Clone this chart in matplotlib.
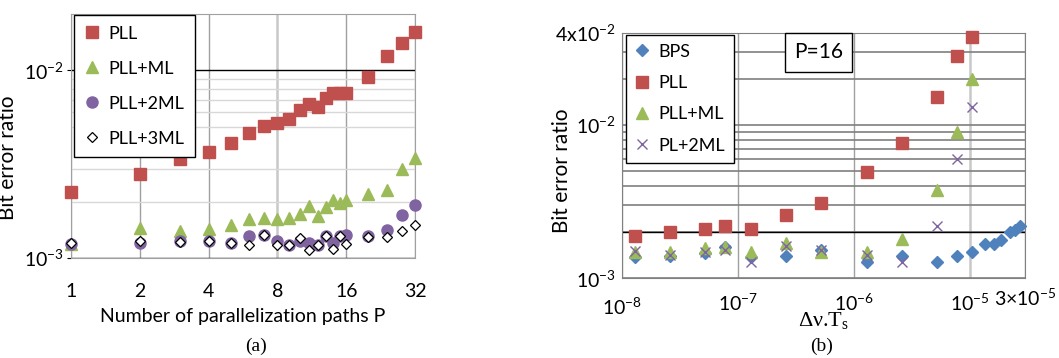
import matplotlib
matplotlib.use("Agg")
import matplotlib.pyplot as plt
import matplotlib.transforms as mtransforms
from matplotlib.ticker import FixedLocator, NullFormatter

plt.rcParams["font.family"] = ["Lato", "DejaVu Sans"]
plt.rcParams["mathtext.default"] = "regular"

# ---------------- DATA (a) ----------------

paths = [1, 2, 3, 4, 5, 6, 7, 8, 9, 10, 11, 12, 13, 14, 15, 16, 20, 24, 28, 32]

ber_pll = [2.24e-3, 2.81e-3, 3.36e-3, 3.67e-3, 4.13e-3, 4.67e-3, 5.07e-3, 5.22e-3,
           5.48e-3, 6.19e-3, 6.62e-3, 6.38e-3, 7.13e-3, 7.60e-3, 7.60e-3, 7.58e-3,
           9.18e-3, 1.20e-2, 1.40e-2, 1.60e-2]

ber_pll_ml = [1.19e-3, 1.445e-3, 1.39e-3, 1.43e-3, 1.50e-3, 1.61e-3, 1.63e-3, 1.61e-3,
              1.63e-3, 1.71e-3, 1.90e-3, 1.67e-3, 1.87e-3, 2.05e-3, 1.96e-3, 2.03e-3,
              2.20e-3, 2.30e-3, 2.99e-3, 3.40e-3]

ber_pll_2ml = [1.19e-3, 1.20e-3, 1.23e-3, 1.23e-3, 1.21e-3, 1.315e-3, 1.33e-3, 1.24e-3,
               1.18e-3, 1.23e-3, 1.21e-3, 1.18e-3, 1.315e-3, 1.21e-3, 1.31e-3, 1.32e-3,
               1.31e-3, 1.415e-3, 1.69e-3, 1.91e-3]

ber_pll_3ml = [1.20e-3, 1.24e-3, 1.22e-3, 1.23e-3, 1.21e-3, 1.18e-3, 1.33e-3, 1.18e-3,
               1.18e-3, 1.28e-3, 1.10e-3, 1.18e-3, 1.31e-3, 1.117e-3, 1.31e-3, 1.19e-3,
               1.30e-3, 1.30e-3, 1.39e-3, 1.51e-3]

# ---------------- DATA (b) ----------------

dnu = [1.3e-8, 2.6e-8, 5.2e-8, 7.8e-8, 1.3e-7, 2.6e-7, 5.2e-7, 1.3e-6,
       2.6e-6, 5.2e-6, 7.8e-6, 1.04e-5]

dnu_bps = dnu + [1.35e-5, 1.62e-5, 1.87e-5, 2.21e-5, 2.44e-5, 2.70e-5]

b_bps = [1.37e-3, 1.39e-3, 1.47e-3, 1.61e-3, 1.37e-3, 1.39e-3, 1.52e-3, 1.285e-3,
         1.40e-3, 1.285e-3, 1.39e-3, 1.48e-3, 1.68e-3, 1.68e-3, 1.78e-3, 1.99e-3,
         2.07e-3, 2.18e-3]

b_pll = [1.90e-3, 2.00e-3, 2.10e-3, 2.19e-3, 2.10e-3, 2.60e-3, 3.10e-3, 4.96e-3,
         7.67e-3, 1.52e-2, 2.84e-2, 3.74e-2]

b_pll_ml = [1.49e-3, 1.48e-3, 1.585e-3, 1.59e-3, 1.48e-3, 1.69e-3, 1.48e-3, 1.48e-3,
            1.80e-3, 3.78e-3, 8.99e-3, 2.01e-2]

b_pl_2ml = [1.51e-3, 1.41e-3, 1.49e-3, 1.53e-3, 1.285e-3, 1.63e-3, 1.52e-3, 1.42e-3,
            1.285e-3, 2.20e-3, 6.03e-3, 1.32e-2]

RED = "#C0504D"
GREEN = "#9BBB59"
PURPLE = "#8064A2"
BLUE = "#4F81BD"

fig = plt.figure(figsize=(10.59, 3.58), dpi=100)

# ---------------- PANEL (a) ----------------

ax1 = fig.add_axes([0.067, 0.279, 0.325, 0.682])
ax1.set_xscale("log", base=2)
ax1.set_yscale("log")
ax1.set_xlim(1, 32)
ax1.set_ylim(1e-3, 2e-2)

ax1.plot(paths, ber_pll, "s", color=RED, ms=8, label="PLL", clip_on=False, zorder=3)
ax1.plot(paths, ber_pll_ml, "^", color=GREEN, ms=8, label="PLL+ML", clip_on=False, zorder=3)
ax1.plot(paths, ber_pll_2ml, "o", color=PURPLE, ms=8, label="PLL+2ML", clip_on=False, zorder=3)
ax1.plot(paths, ber_pll_3ml, "D", mfc="white", mec="black", mew=0.9, ms=5.5,
         label="PLL+3ML", clip_on=False, zorder=4)

ax1.set_xticks([1, 2, 4, 8, 16, 32])
ax1.set_xticklabels(["1", "2", "4", "8", "16", "32"])
ax1.xaxis.set_minor_locator(FixedLocator([]))
ax1.set_yticks([1e-3, 1e-2])
ax1.set_yticklabels(["10$^{-3}$", "10$^{-2}$"])
ax1.yaxis.set_minor_locator(FixedLocator([2e-3, 3e-3, 5e-3, 6e-3, 7e-3, 8e-3, 9e-3]))
ax1.yaxis.set_minor_formatter(NullFormatter())

ax1.grid(True, axis="x", which="major", color="#a0a0a0", lw=1.0, zorder=0)
ax1.grid(True, axis="y", which="minor", color="#d8d8d8", lw=1.0, zorder=0)
ax1.grid(True, axis="y", which="major", color="black", lw=1.0, zorder=0)
ax1.get_xgridlines()[3].set_color("#c8c8c8")
ax1.get_xgridlines()[3].set_linewidth(1.8)
ax1.set_axisbelow(True)

ax1.tick_params(axis="x", length=0, pad=18, labelsize=14)
ax1.tick_params(axis="y", which="major", length=3, pad=2, labelsize=14)
ax1.tick_params(axis="y", which="minor", length=0)
for s in ax1.spines.values():
    s.set_color("#a0a0a0")

ax1.set_xlabel("Number of parallelization paths P", fontsize=14, labelpad=6)
ax1.set_ylabel("Bit error ratio", fontsize=15)
ax1.yaxis.set_label_coords(-0.154, 0.41)

leg1 = ax1.legend(loc="upper left", bbox_to_anchor=(0.009, 0.996), borderaxespad=0,
                  fontsize=13, frameon=True, fancybox=False, edgecolor="black",
                  framealpha=1, labelspacing=1.05, handlelength=0.8,
                  handletextpad=0.5, borderpad=0.6)
leg1.get_frame().set_linewidth(1.0)

fig.text(0.242, 0.02, "(a)", fontsize=14, family=["Liberation Serif"], ha="center")

# ---------------- PANEL (b) ----------------

ax2 = fig.add_axes([0.587, 0.2226, 0.381, 0.686])
ax2.set_xscale("log")
ax2.set_yscale("log")
ax2.set_xlim(1e-8, 3e-5)
ax2.set_ylim(1e-3, 4e-2)

ax2.plot(dnu_bps, b_bps, "D", color=BLUE, ms=6, label="BPS", clip_on=False, zorder=3)
ax2.plot(dnu, b_pll, "s", color=RED, ms=8, label="PLL", clip_on=False, zorder=3)
ax2.plot(dnu, b_pll_ml, "^", color=GREEN, ms=8, label="PLL+ML", clip_on=False, zorder=3)
ax2.plot(dnu, b_pl_2ml, "x", color=PURPLE, ms=7, mew=1.0, label="PL+2ML",
         clip_on=False, zorder=4)

ax2.set_xticks([1e-8, 1e-7, 1e-6, 1e-5, 3e-5])
ax2.set_xticklabels(["10$^{-8}$", "10$^{-7}$", "10$^{-6}$", "10$^{-5}$", "3×10$^{-5}$"])
ax2.xaxis.set_minor_locator(FixedLocator([]))
ax2.set_yticks([1e-3, 1e-2, 4e-2])
ax2.set_yticklabels(["10$^{-3}$", "10$^{-2}$", "4x10$^{-2}$"])
ax2.yaxis.set_minor_locator(FixedLocator([2e-3, 3e-3, 4e-3, 5e-3, 6e-3, 7e-3, 8e-3,
                                          9e-3, 2e-2, 3e-2]))
ax2.yaxis.set_minor_formatter(NullFormatter())

ax2.grid(True, axis="x", which="major", color="#a0a0a0", lw=1.0, zorder=0)
ax2.grid(True, axis="y", which="minor", color="#7f7f7f", lw=1.2, zorder=0)
ax2.grid(True, axis="y", which="major", color="#7f7f7f", lw=1.2, zorder=0)
ax2.get_xgridlines()[3].set_color("#c8c8c8")
ax2.get_xgridlines()[3].set_linewidth(1.8)
ax2.axhline(2e-3, color="black", lw=1.0, zorder=1)
ax2.set_axisbelow(True)

ax2.tick_params(axis="x", length=0, pad=10, labelsize=14)
ax2.tick_params(axis="y", which="major", length=0, pad=4, labelsize=14)
ax2.tick_params(axis="y", which="minor", length=0)
for s in ax2.spines.values():
    s.set_color("#808080")

# first and last x labels sit a little lower / higher in the original
xlabs = ax2.get_xticklabels()
xlabs[0].set_transform(xlabs[0].get_transform() +
                       mtransforms.ScaledTranslation(0, -3 / 72, fig.dpi_scale_trans))
xlabs[-1].set_transform(xlabs[-1].get_transform() +
                        mtransforms.ScaledTranslation(0, 3 / 72, fig.dpi_scale_trans))

ax2.set_xlabel(r"$\Delta\nu$.T$_s$", fontsize=16, family=["Liberation Serif"])
ax2.xaxis.set_label_coords(0.5, -0.13)
ax2.set_ylabel("Bit error ratio", fontsize=15)
ax2.yaxis.set_label_coords(-0.124, 0.44)

leg2 = ax2.legend(loc="upper left", bbox_to_anchor=(0.01, 0.992), borderaxespad=0,
                  fontsize=13, frameon=True, fancybox=False, edgecolor="black",
                  framealpha=1, labelspacing=0.85, handlelength=0.8,
                  handletextpad=0.5, borderpad=0.5)
leg2.get_frame().set_linewidth(1.0)

ax2.text(0.488, 0.92, "P=16", transform=ax2.transAxes, fontsize=15, ha="center",
         va="center", zorder=5,
         bbox=dict(boxstyle="square,pad=0.45", fc="white", ec="black", lw=1.0))

fig.text(0.776, 0.02, "(b)", fontsize=14, family=["Liberation Serif"], ha="center")

fig.savefig("out.png", dpi=100)
